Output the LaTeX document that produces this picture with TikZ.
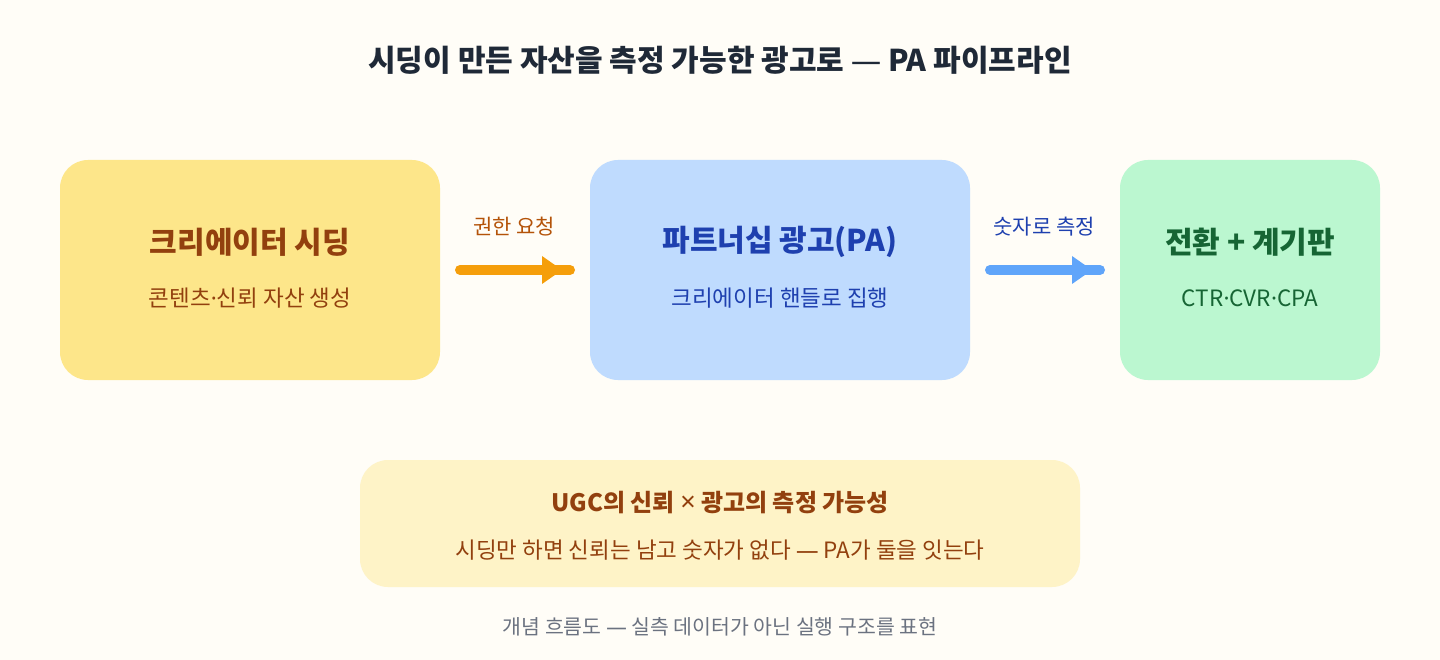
\documentclass[tikz,border=0pt]{standalone}
\usepackage{fontspec}
\setmainfont{Noto Sans CJK KR}
\newfontfamily\latinf{Noto Sans}
\newcommand{\mdot}{{\latinf ·}}
\newcommand{\mdash}{{\latinf —}}
\newcommand{\mtimes}{{\latinf\fontsize{27pt}{28pt}\selectfont ×}}
\usetikzlibrary{calc}
\definecolor{bg}{HTML}{FFFDF7}
\definecolor{yelbox}{HTML}{FDE68A}
\definecolor{bluebox}{HTML}{BFDBFE}
\definecolor{greenbox}{HTML}{BBF7D0}
\definecolor{notebox}{HTML}{FEF3C7}
\definecolor{brown}{HTML}{92400E}
\definecolor{navy}{HTML}{1E40AF}
\definecolor{dgreen}{HTML}{166534}
\definecolor{titlec}{HTML}{1F2937}
\definecolor{grayt}{HTML}{6B7280}
\definecolor{orangea}{HTML}{F59E0B}
\definecolor{bluea}{HTML}{60A5FA}
\definecolor{orangel}{HTML}{B45309}
\tikzset{
  card/.style={rounded corners=28pt, inner sep=0pt},
  ttl/.style={font=\fontsize{30pt}{34pt}\selectfont\bfseries},
  sub/.style={font=\fontsize{22.5pt}{26pt}\selectfont},
  lbl/.style={font=\fontsize{21pt}{25pt}\selectfont},
  shaft/.style={line width=10pt, line cap=round},
}
\begin{document}
\begin{tikzpicture}[x=1pt,y=-1pt]
\useasboundingbox (0,0) rectangle (1440,660);
\fill[bg] (0,0) rectangle (1440,660);

\node[font=\fontsize{30pt}{34pt}\selectfont\bfseries, text=titlec] (title) at (720,60) {시딩이 만든 자산을 측정 가능한 광고로 \mdash{} PA 파이프라인};

% cards
\fill[yelbox, card] (60,160) rectangle (440,380);
\coordinate (b1w) at (60,270); \coordinate (b1e) at (440,270);
\fill[bluebox, card] (590,160) rectangle (970,380);
\coordinate (b2w) at (590,270); \coordinate (b2e) at (970,270);
\fill[greenbox, card] (1120,160) rectangle (1380,380);
\coordinate (b3w) at (1120,270);

\node[ttl, text=brown] (t1) at (250,242) {크리에이터 시딩};
\node[sub, text=brown] (s1) at (250,298) {콘텐츠\mdot{}신뢰 자산 생성};
\node[ttl, text=navy] (t2) at (780,242) {파트너십 광고(PA)};
\node[sub, text=navy] (s2) at (780,298) {크리에이터 핸들로 집행};
\node[ttl, text=dgreen] (t3) at (1250,242) {전환 + 계기판};
\node[sub, text=dgreen] (s3) at (1250,298) {CTR\mdot{}CVR\mdot{}CPA};

% arrows
\draw[shaft, orangea] ($(b1e)+(20,0)$) -- ($(b2w)+(-20,0)$);
\fill[orangea] ($(b2w)+(-48,-14)$) -- ($(b2w)+(-28,0)$) -- ($(b2w)+(-48,14)$) -- cycle;
\node[lbl, text=orangel] (l1) at (514,227) {권한 요청};

\draw[shaft, bluea] ($(b2e)+(20,0)$) -- ($(b3w)+(-20,0)$);
\fill[bluea] ($(b3w)+(-48,-14)$) -- ($(b3w)+(-28,0)$) -- ($(b3w)+(-48,14)$) -- cycle;
\node[lbl, text=navy] (l2) at (1044,227) {숫자로 측정};

% note
\fill[notebox, card] (360,460) rectangle (1080,587);
\node[font=\fontsize{24pt}{28pt}\selectfont\bfseries, text=brown] (n1) at (720,503) {UGC의 신뢰 \mtimes{} 광고의 측정 가능성};
\node[font=\fontsize{22.5pt}{26pt}\selectfont, text=brown] (n2) at (720,550) {시딩만 하면 신뢰는 남고 숫자가 없다 \mdash{} PA가 둘을 잇는다};

\node[font=\fontsize{20.5pt}{24pt}\selectfont, text=grayt] (foot) at (720,627) {개념 흐름도 \mdash{} 실측 데이터가 아닌 실행 구조를 표현};
\end{tikzpicture}
\end{document}
